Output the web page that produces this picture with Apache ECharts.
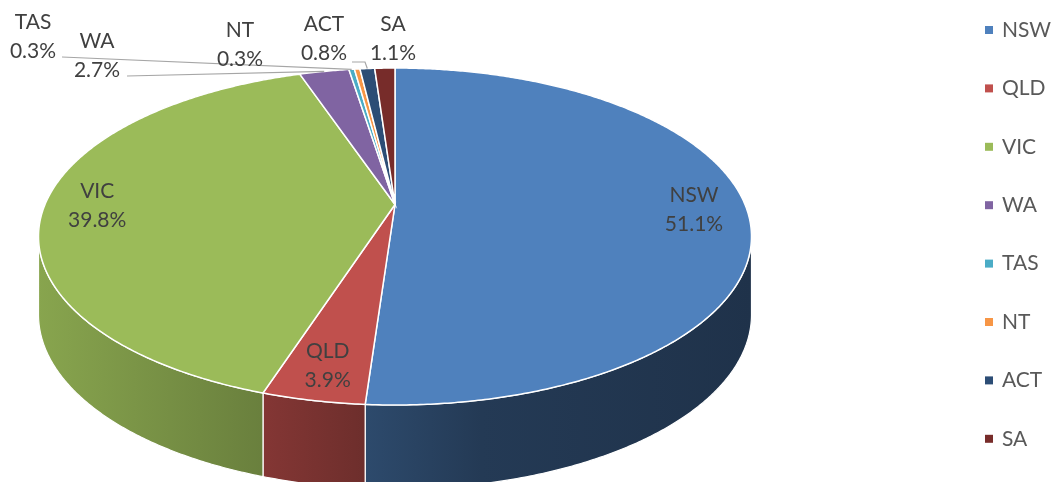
<!DOCTYPE html>
<html>
<head>
<meta charset="utf-8">
<script src="https://cdn.jsdelivr.net/npm/echarts@6/dist/echarts.min.js"></script>
<style>
html, body { margin: 0; padding: 0; background: #fff; }
#main { width: 1051px; height: 482px; }
</style>
</head>
<body>
<div id="main"></div>
<script>
var states = ['NSW', 'QLD', 'VIC', 'WA', 'TAS', 'NT', 'ACT', 'SA'];
var shares = [51.1, 3.9, 39.8, 2.7, 0.3, 0.3, 0.8, 1.1];
var colors = ['#4F81BD', '#C0504D', '#9BBB59', '#8064A2', '#4BACC6', '#F79646', '#2C4D75', '#772C2A'];

// excel-like 3d pie: tilted disc with a bit of perspective
var CX = 395, CY = 204.5, RX = 350, RY = 162.4, K = 0.19;
var DEPTH = 76.7, K2 = 0.087;
var FONT = 'Lato, "Open Sans", sans-serif';

// labels that excel put outside with leader lines
var outside = {
    TAS: { x: 33, y: 37, line: [[62, 57]] },
    WA: { x: 97, y: 56, line: [[127, 76]] },
    NT: { x: 240, y: 45 },
    ACT: { x: 324, y: 39, line: [[352, 62], [365, 62]] },
    SA: { x: 393, y: 39 }
};

var total = shares.reduce(function (a, b) { return a + b }, 0);
var starts = [];
var acc = 0;
shares.forEach(function (v) {
    starts.push(acc / total * Math.PI * 2);
    acc += v;
});

function proj (t, f, down) {
    var s = Math.sin(t), c = Math.cos(t);
    var d = 1 + K * c * f;
    var x = CX + RX * f * s / d;
    var y = CY - RY * f * c / d;
    if (down) {
        y += DEPTH / (1 + K2 * c);
    }
    return [x, y];
}

function arc (a, b, down) {
    var pts = [];
    var n = Math.max(2, Math.ceil((b - a) / 0.008));
    for (var i = 0; i <= n; i++) {
        pts.push(proj(a + (b - a) * i / n, 1, down));
    }
    return pts;
}

function shade (hex, m) {
    var r = parseInt(hex.substr(1, 2), 16), g = parseInt(hex.substr(3, 2), 16), b = parseInt(hex.substr(5, 2), 16);
    return 'rgb(' + Math.round(r * m) + ',' + Math.round(g * m) + ',' + Math.round(b * m) + ')';
}

// front part of the side wall that is visible
var wallA = Math.acos(-K);
var wallB = Math.PI * 2 - wallA;

function renderItem (params, api) {
    var i = params.dataIndex;
    var v = api.value(0);
    var a = starts[i];
    var b = a + v / total * Math.PI * 2;
    var color = colors[i];
    var children = [];

    var wa = Math.max(a, wallA), wb = Math.min(b, wallB);
    if (wb > wa) {
        var pts = arc(wa, wb, false).concat(arc(wa, wb, true).reverse());
        children.push({
            type: 'polygon',
            z2: 1,
            shape: { points: pts },
            style: {
                fill: {
                    type: 'linear', x: 37, y: 0, x2: 753, y2: 0, global: true,
                    colorStops: [
                        { offset: 0, color: shade(color, 0.88) },
                        { offset: 0.32, color: shade(color, 0.68) },
                        { offset: 0.46, color: shade(color, 0.57) },
                        { offset: 0.62, color: shade(color, 0.45) },
                        { offset: 1, color: shade(color, 0.39) }
                    ]
                },
                stroke: '#fff',
                lineWidth: 1.2
            }
        });
    }

    children.push({
        type: 'polygon',
        z2: 10,
        shape: { points: [[CX, CY]].concat(arc(a, b, false)) },
        style: { fill: color, stroke: '#fff', lineWidth: 1.5 }
    });

    var text = states[i] + '\n' + v.toFixed(1) + '%';
    var mid = (a + b) / 2;
    var o = outside[states[i]];
    var lx, ly;
    if (o) {
        lx = o.x;
        ly = o.y;
        if (o.line) {
            var rim = proj(mid, 1, false);
            children.push({
                type: 'polyline',
                z2: 20,
                shape: { points: o.line.concat([rim]) },
                style: { stroke: '#A6A6A6', lineWidth: 1.2, fill: null }
            });
        }
    } else {
        var p = proj(mid, 0.85, false);
        lx = p[0];
        ly = p[1];
    }
    children.push({
        type: 'text',
        z2: 30,
        style: {
            text: text,
            x: lx,
            y: ly,
            fill: '#404040',
            fontSize: 21,
            fontFamily: FONT,
            lineHeight: 29,
            align: 'center',
            verticalAlign: 'middle'
        }
    });

    return { type: 'group', children: children };
}

var chart = echarts.init(document.getElementById('main'));
chart.setOption({
    animation: false,
    color: colors,
    legend: {
        orient: 'vertical',
        left: 985,
        top: 19,
        padding: 0,
        itemWidth: 8,
        itemHeight: 8,
        itemGap: 36.4,
        icon: 'rect',
        selectedMode: false,
        textStyle: {
            color: '#595959',
            fontSize: 21,
            fontFamily: FONT,
            lineHeight: 22,
            padding: [0, 0, 0, 4]
        },
        data: states
    },
    series: [{
        // only here so the legend knows the slices
        type: 'pie',
        radius: [0, 0],
        silent: true,
        label: { show: false },
        labelLine: { show: false },
        data: states.map(function (n, i) {
            return { name: n, value: shares[i] };
        })
    }, {
        type: 'custom',
        coordinateSystem: 'none',
        silent: true,
        renderItem: renderItem,
        data: shares
    }]
});
</script>
</body>
</html>
